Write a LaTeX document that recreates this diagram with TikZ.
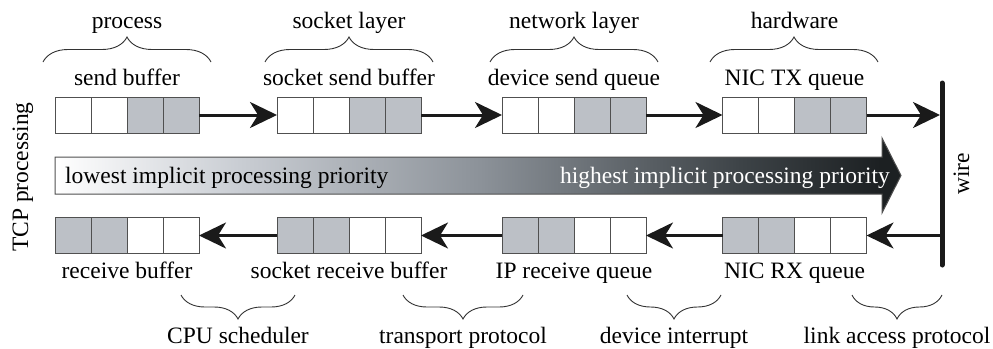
\documentclass[tikz,border=0pt]{standalone}
\usepackage{fontspec}
\setmainfont{Liberation Serif}
\usetikzlibrary{arrows.meta,decorations.pathreplacing,calc}
\definecolor{cellgray}{HTML}{BCC0C6}
\definecolor{cellline}{HTML}{505050}
\definecolor{arrowblack}{HTML}{1A1A1A}
\definecolor{bracecol}{HTML}{333333}
\definecolor{gA}{HTML}{C9CDD3}
\definecolor{gB}{HTML}{8C9299}
\definecolor{gC}{HTML}{3D4347}
\definecolor{gD}{HTML}{1C2022}
\pgfdeclarehorizontalshading{prio}{100bp}{color(0bp)=(white); color(25bp)=(white); color(35.9bp)=(gA); color(50.1bp)=(gB); color(65.5bp)=(gC); color(73.8bp)=(gD); color(75bp)=(gD); color(100bp)=(gD)}
\newcommand\lbfont{\fontsize{23.5}{28}\selectfont}
\tikzset{
  queue/.style={draw=cellline, line width=1pt, minimum width=144pt, minimum height=36pt, inner sep=0pt, outer sep=0pt},
  divider/.style={draw=cellline, line width=1pt},
  flow/.style={line width=3pt, draw=arrowblack, -{Stealth[length=27pt,width=26pt,inset=8pt,fill=arrowblack]}},
  lbl/.style={font=\lbfont, inner sep=0pt, anchor=base},
  brc/.style={decorate, decoration={brace, amplitude=#1}, line width=0.9pt, draw=bracecol},
}
\newcommand\qbox[4]{%
  \ifnum#4=1
    \fill[cellgray] (#2,{#3-18}) rectangle ({#2+72},{#3+18});
  \else
    \fill[cellgray] ({#2-72},{#3-18}) rectangle (#2,{#3+18});
  \fi
  \node[queue] (#1) at (#2,#3) {};
  \foreach \k in {-36,0,36} \draw[divider] ({#2+\k},{#3-18}) -- ({#2+\k},{#3+18});
}
\begin{document}
\begin{tikzpicture}[x=1pt,y=-1pt]
\useasboundingbox (0,0) rectangle (993,348);
% top queues
\qbox{s1}{127}{115}{1}
\qbox{s2}{349}{115}{1}
\qbox{s3}{574}{115}{1}
\qbox{s4}{794.5}{115}{1}
% bottom queues
\qbox{r1}{127}{235.5}{0}
\qbox{r2}{349}{235.5}{0}
\qbox{r3}{574}{235.5}{0}
\qbox{r4}{794.5}{235.5}{0}
% wire
\coordinate (wiretop) at (942,83);
\coordinate (wirebot) at (942,265);
\draw[line width=5pt, line cap=round, draw=arrowblack] (wiretop) -- (wirebot);
\coordinate (wtx) at (940,115);
\coordinate (wrx) at (940,235.5);
% flows
\draw[flow] (s1.east) -- (s2.west);
\draw[flow] (s2.east) -- (s3.west);
\draw[flow] (s3.east) -- (s4.west);
\draw[flow] (s4.east) -- (wtx);
\draw[flow] (wrx) -- (r4.east);
\draw[flow] (r4.west) -- (r3.east);
\draw[flow] (r3.west) -- (r2.east);
\draw[flow] (r2.west) -- (r1.east);
% labels
\node[lbl] (ls1) at (127,85) {send buffer};
\node[lbl] (ls2) at (349,85) {socket send buffer};
\node[lbl] (ls3) at (574,85) {device send queue};
\node[lbl] (ls4) at (794.5,85) {NIC TX queue};
\node[lbl] (lr1) at (127,278) {receive buffer};
\node[lbl] (lr2) at (349,278) {socket receive buffer};
\node[lbl] (lr3) at (574,278) {IP receive queue};
\node[lbl] (lr4) at (794.5,278) {NIC RX queue};
% top braces
\draw[brc=25pt] (43,62) -- (211,62);
\draw[brc=25pt] (265,62) -- (433,62);
\draw[brc=25pt] (490,62) -- (658,62);
\draw[brc=25pt] (710,62) -- (878,62);
\node[lbl] (t1) at (127,28) {process};
\node[lbl] (t2) at (349,28) {socket layer};
\node[lbl] (t3) at (574,28) {network layer};
\node[lbl] (t4) at (794.5,28) {hardware};
% bottom braces
\draw[brc=24pt] (295,295) -- (181,295);
\draw[brc=24pt] (523,295) -- (403,295);
\draw[brc=24pt] (721,295) -- (627,295);
\draw[brc=24pt] (942,295) -- (852,295);
\node[lbl] (b1) at (238,343) {CPU scheduler};
\node[lbl] (b2) at (463,343) {transport protocol};
\node[lbl] (b3) at (674,343) {device interrupt};
\node[lbl] (b4) at (897,343) {link access protocol};
% priority arrow
\shade[shading=prio, draw=cellline, line width=1pt] (55,157) -- (882,157) -- (882,138) -- (901,175.5) -- (882,213) -- (882,194) -- (55,194) -- cycle;
\node[lbl, anchor=base west] (low) at (65,183) {lowest implicit processing priority};
\node[lbl, anchor=base east, text=white] (high) at (890,183) {highest implicit processing priority};
% side labels
\node[lbl, rotate=90] (tcp) at (28,177) {TCP processing};
\node[lbl, rotate=90] (wire) at (969,174) {wire};
\end{tikzpicture}
\end{document}
